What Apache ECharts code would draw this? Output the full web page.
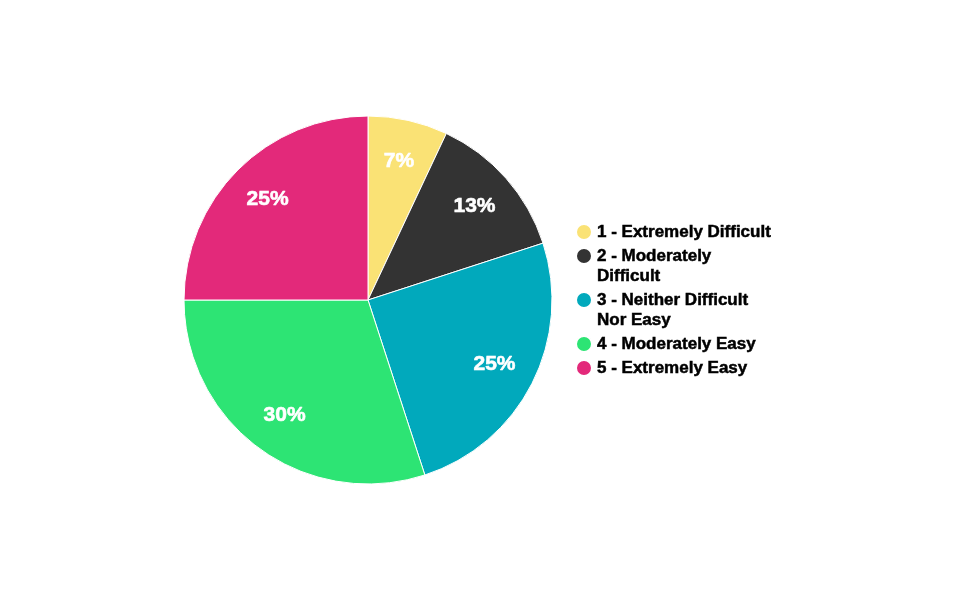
<!DOCTYPE html>
<html><head><meta charset="utf-8">
<script src="https://cdn.jsdelivr.net/npm/echarts@6/dist/echarts.min.js"></script>
<style>html,body{margin:0;padding:0;background:#fff}#c{width:963px;height:600px}</style>
</head><body><div id="c"></div>
<script>
const categories = ['1 - Extremely Difficult','2 - Moderately Difficult','3 - Neither Difficult Nor Easy','4 - Moderately Easy','5 - Extremely Easy'];
const values = [7, 13, 25, 30, 25];
const colors = ['#FAE275', '#333333', '#01A9BC', '#2DE474', '#E3297A'];

const data = categories.map((n, i) => ({ name: n, value: values[i] }));
const FONT = "'Liberation Sans', Arial, sans-serif";
const legendFirstLineY = [232, 256, 300, 344, 368];
const wrapped = [false, true, true, false, false];

const legends = categories.map((n, i) => ({
  orient: 'vertical', left: 575, top: legendFirstLineY[i] - (wrapped[i] ? 30 : 10), padding: 0,
  icon: 'circle', itemWidth: 16, itemHeight: 16, itemGap: 0,
  formatter: wrapped[i] ? (name => '\n' + name) : '{name}',
  textStyle: { fontFamily: FONT, fontWeight: 'bold', fontSize: 17, color: '#000', lineHeight: 20,
    textBorderColor: '#000', textBorderWidth: 0.5,
    width: 178, overflow: 'break' },
  data: [n]
}));

const chart = echarts.init(document.getElementById('c'), null, { renderer: 'canvas' });
chart.setOption({
  animation: false,
  color: colors,
  legend: legends,
  series: [
    {
      type: 'pie', center: [368, 300], radius: [0, 184], startAngle: 90, clockwise: true,
      itemStyle: { borderColor: '#fff', borderWidth: 1 },
      label: { show: false }, labelLine: { show: false },
      emphasis: { disabled: true },
      data: data
    },
    {
      type: 'pie', center: [368, 300], radius: [94, 184], startAngle: 90, clockwise: true, silent: true,
      itemStyle: { color: 'rgba(0,0,0,0)' },
      label: { show: true, position: 'inside', formatter: '{c}%', color: '#fff', fontFamily: FONT, fontWeight: 'bold', fontSize: 21,
        textBorderColor: '#fff', textBorderWidth: 0.6 },
      labelLine: { show: false }, emphasis: { disabled: true },
      data: data
    }
  ]
});
</script></body></html>
